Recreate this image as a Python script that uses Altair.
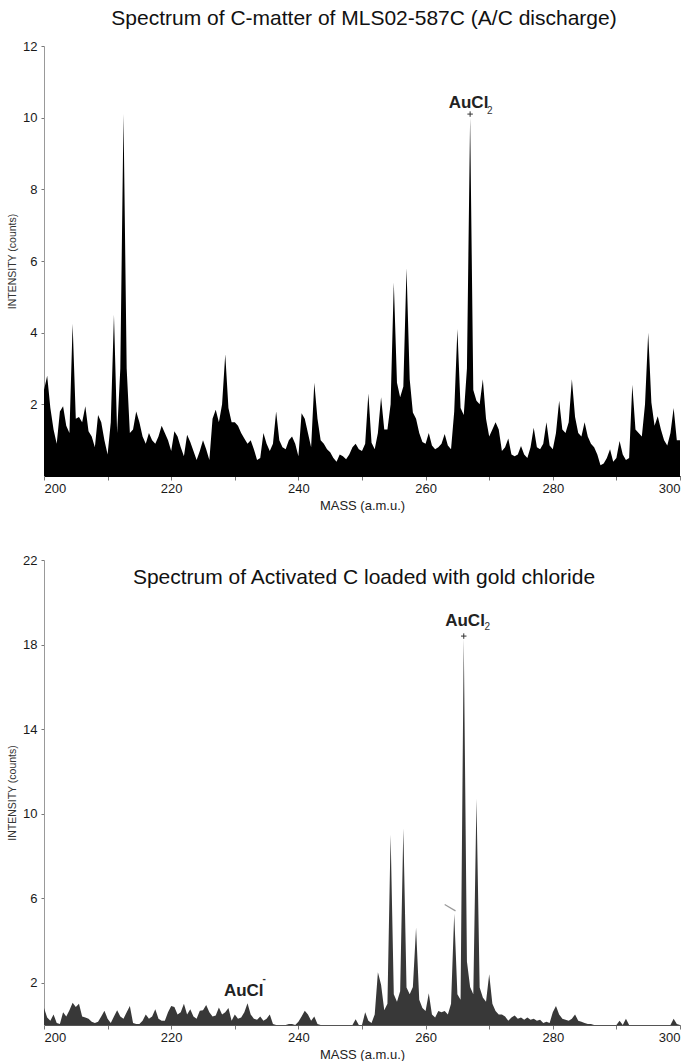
import altair as alt
import pandas as pd

# ---------------- data ----------------
# mass grid in a.m.u. (0.5 amu sampling, 200 .. 300)
mass = [200.0 + 0.5 * i for i in range(201)]

# Spectrum of C-matter of MLS02-587C (A/C discharge)
top_intensity = [
    2.4, 2.8, 1.9, 1.3, 0.9, 1.8, 1.95, 1.4, 1.2, 4.25,      # 200.0-204.5
    1.6, 1.65, 1.5, 1.95, 1.25, 1.1, 0.8, 1.7, 1.5, 1.0,     # 205.0-209.5
    0.6, 1.5, 4.5, 1.2, 3.0, 10.1, 3.0, 1.2, 1.3, 1.8,       # 210.0-214.5
    1.5, 1.1, 0.9, 1.2, 1.0, 0.9, 1.1, 1.4, 1.2, 1.0,        # 215.0-219.5
    0.7, 1.25, 1.1, 0.8, 0.55, 1.15, 0.95, 0.7, 0.45, 0.7,   # 220.0-224.5
    1.0, 0.75, 0.45, 1.6, 1.85, 1.5, 2.0, 3.4, 1.9, 1.5,     # 225.0-229.5
    1.5, 1.4, 1.2, 1.05, 0.9, 1.0, 0.75, 0.45, 0.5, 1.2,     # 230.0-234.5
    0.9, 0.7, 0.9, 1.8, 1.0, 0.8, 0.75, 1.0, 1.1, 0.9,       # 235.0-239.5
    0.55, 1.75, 1.6, 1.2, 0.8, 2.6, 1.6, 1.0, 0.9, 0.75,     # 240.0-244.5
    0.66, 0.5, 0.4, 0.6, 0.55, 0.47, 0.6, 0.8, 0.9, 0.75,    # 245.0-249.5
    0.7, 0.9, 2.3, 0.93, 0.75, 1.2, 2.2, 1.3, 1.3, 2.0,      # 250.0-254.5
    5.4, 2.6, 2.2, 2.5, 5.8, 2.7, 1.77, 1.6, 1.2, 0.95,      # 255.0-259.5
    0.9, 1.2, 0.85, 0.75, 0.8, 0.9, 1.17, 0.85, 0.75, 1.8,   # 260.0-264.5
    4.1, 1.9, 1.7, 3.0, 10.0, 2.4, 2.1, 2.0, 2.7, 1.6,       # 265.0-269.5
    1.1, 1.3, 1.5, 1.3, 0.7, 0.8, 1.05, 0.6, 0.55, 0.6,      # 270.0-274.5
    0.84, 0.6, 0.5, 0.8, 1.35, 0.8, 0.75, 0.9, 1.5, 0.85,    # 275.0-279.5
    0.75, 1.2, 2.1, 1.3, 1.2, 1.5, 2.7, 1.65, 1.2, 1.1,      # 280.0-284.5
    1.5, 1.1, 0.9, 0.8, 0.6, 0.3, 0.35, 0.5, 0.75, 0.4,      # 285.0-289.5
    0.5, 0.98, 0.6, 0.45, 0.5, 2.55, 1.3, 1.2, 1.1, 2.0,     # 290.0-294.5
    4.0, 2.05, 1.4, 1.67, 1.3, 1.0, 0.85, 1.2, 1.9, 1.0,     # 295.0-299.5
    1.0,                                                     # 300.0
]

# Spectrum of Activated C loaded with gold chloride
bottom_intensity = [
    0.8, 0.35, 0.2, 0.5, 0.1, 0.05, 0.6, 0.4, 0.7, 1.05,     # 200.0-204.5
    0.85, 1.0, 0.4, 0.35, 0.3, 0.15, 0.1, 0.15, 0.4, 0.67,   # 205.0-209.5
    0.3, 0.1, 0.4, 0.7, 0.4, 0.3, 0.6, 0.9, 0.1, 0.05,       # 210.0-214.5
    0.05, 0.2, 0.5, 0.3, 0.4, 0.75, 0.3, 0.2, 0.2, 0.6,      # 215.0-219.5
    0.9, 0.85, 0.5, 0.6, 1.0, 0.5, 0.75, 0.4, 0.3, 0.67,     # 220.0-224.5
    0.7, 0.95, 0.6, 0.4, 0.45, 0.83, 0.5, 0.6, 0.8, 0.2,     # 225.0-229.5
    0.5, 0.3, 0.35, 0.6, 1.03, 0.5, 0.3, 0.25, 0.4, 0.2,     # 230.0-234.5
    0.3, 0.5, 0.05, 0.0, 0.0, 0.0, 0.0, 0.05, 0.05, 0.0,     # 235.0-239.5
    0.15, 0.4, 0.67, 0.5, 0.2, 0.4, 0.05, 0.0, 0.0, 0.0,     # 240.0-244.5
    0.0, 0.0, 0.0, 0.0, 0.0, 0.0, 0.0, 0.0, 0.27, 0.0,       # 245.0-249.5
    0.0, 0.6, 0.2, 0.1, 0.5, 2.5, 1.9, 0.7, 1.0, 9.0,        # 250.0-254.5
    1.45, 1.1, 1.6, 9.3, 1.77, 1.45, 1.8, 4.6, 1.2, 0.8,     # 255.0-259.5
    0.66, 1.5, 0.5, 0.35, 0.66, 0.6, 0.66, 0.5, 1.0, 5.26,   # 260.0-264.5
    1.45, 1.2, 18.3, 3.0, 1.8, 1.45, 10.7, 1.77, 1.3, 1.1,   # 265.0-269.5
    2.4, 1.0, 0.66, 0.5, 0.5, 0.4, 0.2, 0.35, 0.45, 0.3,     # 270.0-274.5
    0.35, 0.25, 0.35, 0.25, 0.3, 0.2, 0.25, 0.1, 0.15, 0.1,  # 275.0-279.5
    0.6, 0.9, 0.5, 0.3, 0.25, 0.2, 0.3, 0.5, 0.2, 0.15,      # 280.0-284.5
    0.1, 0.05, 0.05, 0.0, 0.0, 0.0, 0.0, 0.0, 0.0, 0.0,      # 285.0-289.5
    0.0, 0.2, 0.0, 0.3, 0.0, 0.0, 0.0, 0.0, 0.0, 0.0,        # 290.0-294.5
    0.0, 0.0, 0.0, 0.0, 0.0, 0.0, 0.0, 0.0, 0.3, 0.05,       # 295.0-299.5
    0.0,                                                     # 300.0
]

x_tick_values = [200, 210, 220, 230, 240, 250, 260, 270, 280, 290, 300]
top_y_ticks = [2, 4, 6, 8, 10, 12]
bottom_y_ticks = [2, 6, 10, 14, 18, 22]

top_title = "Spectrum of C-matter of MLS02-587C (A/C discharge)"
bottom_title = "Spectrum of Activated C loaded with gold chloride"

# annotation labels: (mass, intensity) anchors
top_label = {"mass": [266.75], "intensity": [10.4], "t": ["AuCl"]}
top_sub = {"mass": [270.1], "intensity": [10.2], "t": ["2"]}
top_marker = {"mass": [267.0], "intensity": [10.1]}

bot_label = {"mass": [266.2], "intensity": [19.1], "t": ["AuCl"]}
bot_sub = {"mass": [269.7], "intensity": [18.85], "t": ["2"]}
bot_marker = {"mass": [266.0], "intensity": [18.4]}

bot_label2 = {"mass": [231.4], "intensity": [1.6], "t": ["AuCl"]}
bot_sup2 = {"mass": [234.6], "intensity": [2.2], "t": ["-"]}

slash = {"mass": [263.0], "mass2": [264.7], "intensity": [5.7], "intensity2": [5.4]}

# ---------------- styling ----------------
FONT = "Liberation Sans"
W = 636
H_TOP = 430
H_BOT = 465


def x_enc(domain_color):
    return alt.X(
        "mass:Q",
        scale=alt.Scale(domain=[200, 300], nice=False, zero=False),
        axis=alt.Axis(
            values=x_tick_values,
            labelExpr="datum.value % 20 == 0 ? datum.label : ''",
            title="MASS (a.m.u.)",
            grid=False,
            titleFontSize=13,
            titleFontWeight="normal",
            titleColor="#222",
            titlePadding=4,
            labelFontSize=13,
            labelColor="#1a1a1a",
            labelPadding=2,
            tickSize=4,
            tickColor="#777",
            domainColor=domain_color,
            labelOverlap=False,
        ),
    )


def y_enc(domain_max, ticks):
    return alt.Y(
        "intensity:Q",
        scale=alt.Scale(domain=[0, domain_max], nice=False, zero=True),
        axis=alt.Axis(
            values=ticks,
            title="INTENSITY (counts)",
            grid=False,
            titleFontSize=10.5,
            titleFontWeight="normal",
            titleColor="#333",
            titlePadding=5,
            labelFontSize=13,
            labelColor="#1a1a1a",
            labelPadding=4,
            tickSize=3,
            tickColor="#777",
            domainColor="#999",
        ),
    )


def panel(values, fill, ymax, yticks, height, title_text, title_y,
          lab, sub, marker, x_domain_color, extra=()):
    df = pd.DataFrame({"mass": mass, "intensity": values})
    xe = x_enc(x_domain_color)
    ye = y_enc(ymax, yticks)
    area = alt.Chart(df).mark_area(color=fill, interpolate="linear", opacity=1).encode(x=xe, y=ye)
    label = alt.Chart(pd.DataFrame(lab)).mark_text(
        font=FONT, fontSize=17, fontWeight="bold", color="#222", align="center", baseline="middle"
    ).encode(x=xe, y=ye, text="t:N")
    subl = alt.Chart(pd.DataFrame(sub)).mark_text(
        font=FONT, fontSize=10, color="#333", align="center", baseline="middle"
    ).encode(x=xe, y=ye, text="t:N")
    mk = alt.Chart(pd.DataFrame(marker)).mark_point(
        shape="M-1,0L1,0M0,-1L0,1", filled=False, color="#333", strokeWidth=1, size=30, opacity=1
    ).encode(x=xe, y=ye)
    ttl = alt.Chart(pd.DataFrame({"t": [title_text]})).mark_text(
        font=FONT, fontSize=21, color="#111", align="center", baseline="middle"
    ).encode(text="t:N", x=alt.value(W / 2 + 2), y=alt.value(title_y))
    layers = [area, label, subl, mk, ttl]
    for build in extra:
        layers.append(build(xe, ye))
    return alt.layer(*layers).properties(width=W, height=height)


def aucl_minus(xe, ye):
    return alt.Chart(pd.DataFrame(bot_label2)).mark_text(
        font=FONT, fontSize=17, fontWeight="bold", color="#222", align="center", baseline="middle"
    ).encode(x=xe, y=ye, text="t:N")


def aucl_minus_sup(xe, ye):
    return alt.Chart(pd.DataFrame(bot_sup2)).mark_text(
        font=FONT, fontSize=10, fontWeight="bold", color="#333", align="center", baseline="middle"
    ).encode(x=xe, y=ye, text="t:N")


def slash_mark(xe, ye):
    return alt.Chart(pd.DataFrame(slash)).mark_rule(color="#999", strokeWidth=1.2).encode(
        x=xe, y=ye, x2="mass2:Q", y2="intensity2:Q"
    )


top = panel(top_intensity, "#000000", 12, top_y_ticks, H_TOP, top_title, -27,
            top_label, top_sub, top_marker, "#000")
bottom = panel(bottom_intensity, "#383838", 22, bottom_y_ticks, H_BOT, bottom_title, 18,
               bot_label, bot_sub, bot_marker, "#555",
               extra=(aucl_minus, aucl_minus_sup, slash_mark))

chart = alt.vconcat(top, bottom, spacing=84, bounds="flush").properties(
    padding={"left": 7, "top": 8, "right": 0, "bottom": 0},
    background="white",
).configure_view(stroke=None).configure_axis(
    grid=False, labelFont=FONT, titleFont=FONT
)

chart.save("out.html", embed_options={"renderer": "svg", "actions": False})
